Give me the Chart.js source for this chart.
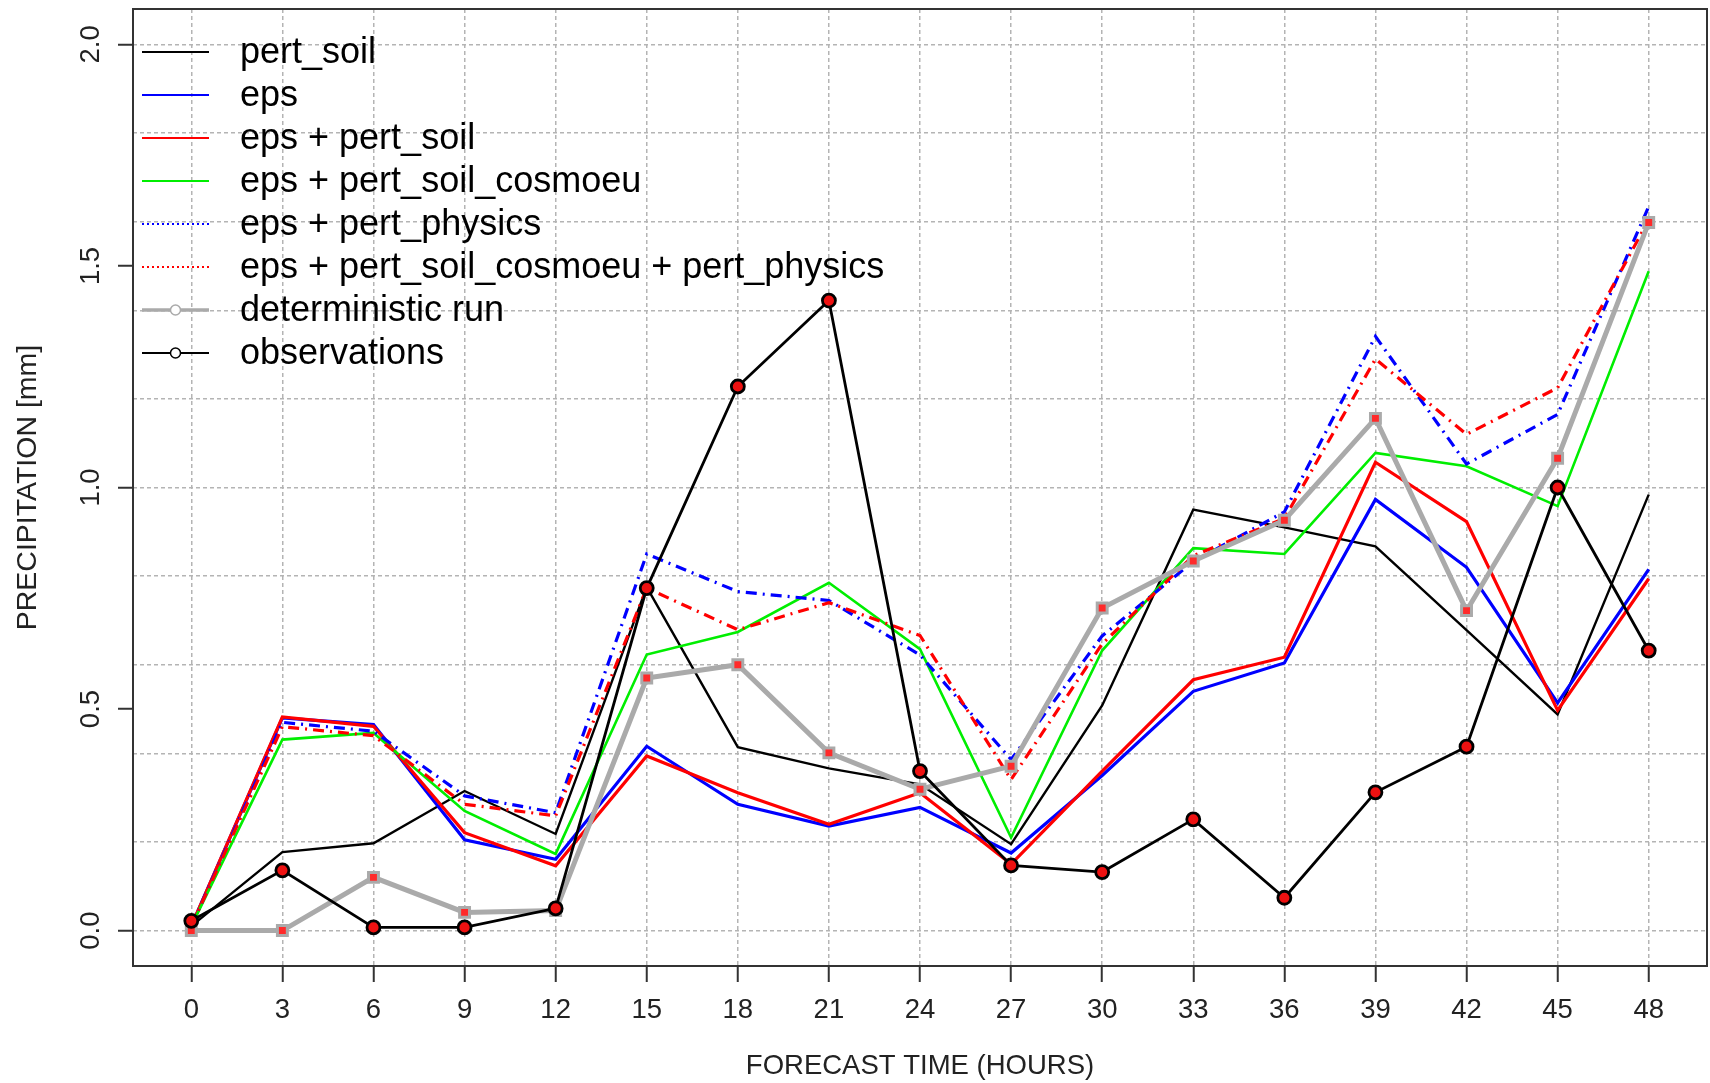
<!DOCTYPE html>
<html><head><meta charset="utf-8">
<script src="https://cdn.jsdelivr.net/npm/chart.js@4"></script>
<style>html,body{margin:0;padding:0;background:#fff;}canvas{display:block;}</style>
</head><body>
<canvas id="c" width="1710" height="1083"></canvas>
<script>
// ---- data ----
const hours = [0,3,6,9,12,15,18,21,24,27,30,33,36,39,42,45,48];
const yTickValues = [0, 0.5, 1.0, 1.5, 2.0];
const yGridValues = [0,0.2,0.4,0.6,0.8,1.0,1.2,1.4,1.6,1.8,2.0];
const seriesNames = ['pert_soil','eps','eps + pert_soil','eps + pert_soil_cosmoeu','eps + pert_physics','eps + pert_soil_cosmoeu + pert_physics','deterministic run','observations'];
const pertSoil        = [0.01,0.177,0.197,0.315,0.218,0.775,0.414,0.366,0.330,0.195,0.508,0.950,0.910,0.867,0.678,0.488,0.984];
const eps             = [0.01,0.480,0.465,0.205,0.161,0.416,0.285,0.236,0.278,0.175,0.350,0.540,0.604,0.973,0.820,0.514,0.815];
const epsPertSoil     = [0.01,0.482,0.461,0.221,0.146,0.394,0.311,0.240,0.311,0.150,0.360,0.566,0.617,1.057,0.923,0.497,0.794];
const epsSoilCosmo    = [0.01,0.431,0.446,0.270,0.173,0.623,0.674,0.785,0.635,0.210,0.632,0.863,0.850,1.078,1.048,0.958,1.488];
const epsPhysics      = [0.01,0.470,0.450,0.304,0.266,0.850,0.765,0.745,0.622,0.386,0.665,0.833,0.945,1.341,1.053,1.165,1.634];
const epsCosmoPhysics = [0.01,0.460,0.440,0.285,0.259,0.773,0.679,0.740,0.666,0.341,0.647,0.846,0.930,1.290,1.120,1.225,1.604];
const deterministic   = [0.00,0.000,0.120,0.041,0.045,0.570,0.600,0.401,0.319,0.371,0.728,0.834,0.926,1.156,0.722,1.066,1.598];
const observations    = [0.022,0.136,0.007,0.007,0.050,0.773,1.228,1.422,0.360,0.147,0.132,0.251,0.074,0.312,0.415,1.000,0.632];

const FONT = '"Liberation Sans", Arial, sans-serif';
const pts = arr => arr.map((v,i)=>({x:hours[i], y:v}));
const DASHDOT = [11,6,2,6];

const styles = [
  {color:'#000000', width:2.4, dash:[],      order:8, legendDash:[]},
  {color:'#0000ff', width:3.2, dash:[],      order:7, legendDash:[]},
  {color:'#ff0000', width:3.2, dash:[],      order:6, legendDash:[]},
  {color:'#00ee00', width:2.6, dash:[],      order:5, legendDash:[]},
  {color:'#0000ff', width:3.2, dash:DASHDOT, order:4, legendDash:[2,3]},
  {color:'#ff0000', width:3.2, dash:DASHDOT, order:3, legendDash:[2,3]},
  {color:'#aaaaaa', width:5,   dash:[],      order:2, legendDash:[], marker:true},
  {color:'#000000', width:2.8, dash:[],      order:1, legendDash:[], marker:true}
];
const values = [pertSoil, eps, epsPertSoil, epsSoilCosmo, epsPhysics, epsCosmoPhysics, deterministic, observations];

const datasets = values.map((arr,i)=>{
  const s = styles[i];
  const d = {
    label: seriesNames[i], data: pts(arr), borderColor: s.color, borderWidth: s.width,
    borderDash: s.dash, order: s.order, tension: 0, fill: false, pointRadius: 0
  };
  if (i === 6) { Object.assign(d, {pointRadius:7, pointStyle:'rect', pointBackgroundColor:'#ff2a2a', pointBorderColor:'#aaaaaa', pointBorderWidth:3}); }
  if (i === 7) { Object.assign(d, {pointRadius:6.5, pointStyle:'circle', pointBackgroundColor:'#ee1111', pointBorderColor:'#000000', pointBorderWidth:2.8}); }
  return d;
});

const near = (v, list) => list.some(t => Math.abs(t - v) < 1e-6);
const noPad = s => { s.paddingTop = 0; s.paddingBottom = 0; s.paddingLeft = 0; s.paddingRight = 0; };

const boxAndLegend = {
  id: 'boxAndLegend',
  afterDraw(chart) {
    const ctx = chart.ctx, a = chart.chartArea;
    ctx.save();
    ctx.strokeStyle = '#333'; ctx.lineWidth = 2; ctx.setLineDash([]);
    ctx.strokeRect(a.left, a.top, a.right - a.left, a.bottom - a.top);
    // legend
    const x0 = 142, x1 = 209, tx = 240, y0 = 52, dy = 43.0;
    ctx.font = '36px ' + FONT; ctx.textBaseline = 'middle'; ctx.textAlign = 'left';
    chart.data.datasets.forEach((ds, i) => {
      const s = styles[i], y = y0 + i*dy;
      ctx.save();
      ctx.strokeStyle = s.color; ctx.lineWidth = (i===6) ? 3.5 : 2.2; ctx.setLineDash(s.legendDash);
      ctx.beginPath(); ctx.moveTo(x0, y); ctx.lineTo(x1, y); ctx.stroke();
      if (s.marker) {
        ctx.setLineDash([]); ctx.fillStyle = '#fff'; ctx.lineWidth = 1.5;
        ctx.beginPath(); ctx.arc((x0+x1)/2, y, 5, 0, Math.PI*2); ctx.fill(); ctx.stroke();
      }
      ctx.restore();
      ctx.fillStyle = '#000';
      ctx.fillText(ds.label, tx, y + 1);
    });
    ctx.restore();
  }
};

new Chart(document.getElementById('c'), {
  type: 'line',
  data: { datasets },
  plugins: [boxAndLegend],
  options: {
    responsive: false, animation: false, devicePixelRatio: 1,
    layout: { autoPadding: false, padding: { top: 9, right: 3, left: 0, bottom: 0 } },
    plugins: { legend: { display: false }, tooltip: { enabled: false } },
    scales: {
      x: {
        type: 'linear', min: -1.92, max: 49.92,
        afterBuildTicks: s => { s.ticks = hours.map(v => ({value: v})); },
        afterFit: s => { s.height = 117; noPad(s); },
        ticks: { autoSkip: false, maxRotation: 0, minRotation: 0, padding: 12, color: '#222',
                 font: { family: FONT, size: 27.5 }, callback: v => String(v) },
        grid: { color: '#b4b4b4', lineWidth: 1.5, tickColor: '#333', tickWidth: 2, tickLength: 16 },
        border: { display: false, dash: [4,3] },
        title: { display: true, text: 'FORECAST TIME (HOURS)', color: '#222',
                 font: { family: FONT, size: 27.5 }, padding: { top: 0, bottom: 0 } }
      },
      y: {
        type: 'linear', min: -0.08, max: 2.08,
        afterBuildTicks: s => {
          const vals = Array.from(new Set(yGridValues.concat(yTickValues).map(v => Math.round(v*100)/100))).sort((a,b)=>a-b);
          s.ticks = vals.map(v => ({value: v}));
        },
        afterFit: s => { s.width = 133; noPad(s); },
        ticks: { autoSkip: false, minRotation: 90, maxRotation: 90, crossAlign: 'center', padding: 7, color: '#222',
                 font: { family: FONT, size: 27.5 },
                 callback: v => near(v, yTickValues) ? v.toFixed(1) : '' },
        grid: {
          color: c => near(c.tick.value, yGridValues) ? '#b4b4b4' : 'rgba(0,0,0,0)',
          lineWidth: 1.5,
          tickColor: c => near(c.tick.value, yTickValues) ? '#333' : 'rgba(0,0,0,0)',
          tickWidth: 2, tickLength: 15
        },
        border: { display: false, dash: [4,3] },
        title: { display: true, text: 'PRECIPITATION [mm]', color: '#222',
                 font: { family: FONT, size: 28.5 }, padding: { top: 11, bottom: 0 } }
      }
    }
  }
});
</script>
</body></html>
